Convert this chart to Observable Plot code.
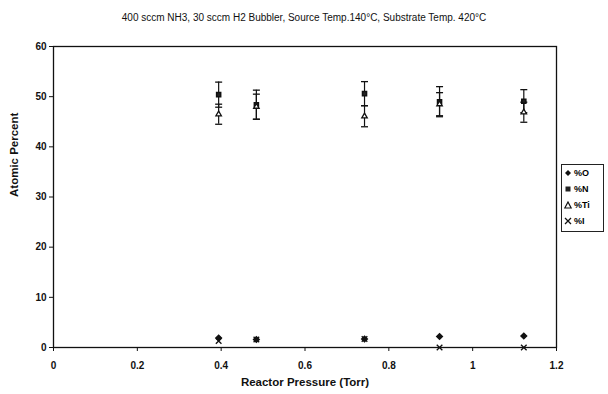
<!DOCTYPE html>
<html>
<head>
<meta charset="utf-8">
<script src="https://cdn.jsdelivr.net/npm/d3@7"></script>
<script src="https://cdn.jsdelivr.net/npm/@observablehq/plot@0.6"></script>
<style>
  body { margin: 0; background: #fff; font-family: "Liberation Sans", Arial, sans-serif; }
  #wrap { position: relative; width: 608px; height: 394px; }
  #title { position: absolute; top: 12px; left: 0; width: 608px; text-align: center; font-size: 10px; color: #111; }
  #legend { position: absolute; left: 561px; top: 164px; width: 43px; height: 68px; border: 1px solid #222; box-sizing: border-box; font-size: 9px; font-weight: bold; }
  #legend div { display: flex; align-items: center; height: 16px; padding-left: 2px; }
  #legend svg { margin-right: 2px; }
</style>
</head>
<body>
<div id="wrap">
  <div id="chart"></div>
  <div id="title">400 sccm NH3, 30 sccm H2 Bubbler, Source Temp.140°C, Substrate Temp. 420°C</div>
  <div id="legend"></div>
</div>
<script>
const pressure = [0.394, 0.484, 0.742, 0.921, 1.122];
const pctO  = [1.9, 1.6, 1.7, 2.2, 2.3];
const pctN  = [50.4, 48.4, 50.6, 49.0, 49.1];
const pctTi = [46.5, 48.0, 46.1, 48.5, 46.9];
const pctI  = [1.3, 1.6, 1.7, 0, 0];
const errN  = [2.5, 2.9, 2.4, 3.0, 2.3];
const errTi = [2.0, 2.5, 2.1, 2.3, 2.0];
const xTicks = [0, 0.2, 0.4, 0.6, 0.8, 1, 1.2];
const yTicks = [0, 10, 20, 30, 40, 50, 60];
const seriesNames = ["%O", "%N", "%Ti", "%I"];

const rows = (vals, name) => pressure.map((p, i) => ({p, v: vals[i], s: name}));
const errRows = (vals, errs) => pressure.map((p, i) => ({p, lo: vals[i] - errs[i], hi: vals[i] + errs[i]}));
const errs = [...errRows(pctN, errN), ...errRows(pctTi, errTi)];

const cap = { draw(ctx, size) { ctx.moveTo(-3.5, 0); ctx.lineTo(3.5, 0); } };
const crossMark = { draw(ctx, size) { ctx.moveTo(-2.8, -2.8); ctx.lineTo(2.8, 2.8); ctx.moveTo(2.8, -2.8); ctx.lineTo(-2.8, 2.8); } };

const chart = Plot.plot({
  width: 608, height: 394,
  marginLeft: 53, marginRight: 52, marginTop: 46, marginBottom: 47,
  style: { fontFamily: "Liberation Sans, Arial, sans-serif", fontSize: "10px", color: "#111", background: "#fff" },
  x: { type: "linear", domain: [0, 1.2], label: null },
  y: { type: "linear", domain: [0, 60], label: null },
  marks: [
    Plot.frame({ stroke: "#111", strokeWidth: 1.3 }),
    Plot.axisX({ ticks: xTicks, tickSize: 4, tickPadding: 10, tickFormat: d => String(d), fontWeight: "bold", fontSize: 10 }),
    Plot.axisY({ ticks: yTicks, tickSize: 4, tickPadding: 3, fontWeight: "bold", fontSize: 10 }),
    Plot.ruleX(errs, { x: "p", y1: "lo", y2: "hi", stroke: "#111", strokeWidth: 1.2 }),
    Plot.dot(errs, { x: "p", y: "lo", symbol: cap, stroke: "#111", strokeWidth: 1.3 }),
    Plot.dot(errs, { x: "p", y: "hi", symbol: cap, stroke: "#111", strokeWidth: 1.3 }),
    Plot.dot(rows(pctO, "%O"), { x: "p", y: "v", symbol: "diamond2", r: 2.5, fill: "#111", stroke: "#111" }),
    Plot.dot(rows(pctN, "%N"), { x: "p", y: "v", symbol: "square2", r: 2.6, fill: "#222", stroke: "#111" }),
    Plot.dot(rows(pctTi, "%Ti"), { x: "p", y: "v", symbol: "triangle2", r: 2.6, fill: "#fff", stroke: "#111", strokeWidth: 1.3 }),
    Plot.dot(rows(pctI, "%I"), { x: "p", y: "v", symbol: crossMark, stroke: "#111", strokeWidth: 1.3 }),
    Plot.text(["Reactor Pressure (Torr)"], { frameAnchor: "bottom", dy: 38, fontWeight: "bold", fontSize: 11.5 }),
    Plot.text(["Atomic Percent"], { frameAnchor: "left", dx: -39, rotate: -90, fontWeight: "bold", fontSize: 11.5 })
  ]
});
document.getElementById("chart").appendChild(chart);

const symbolPaths = {
  "%O": '<path d="M4,1 L7,4 L4,7 L1,4Z" fill="#111"/>',
  "%N": '<rect x="1.5" y="1.5" width="5" height="5" fill="#222"/>',
  "%Ti": '<path d="M4,1 L7.2,7 L0.8,7Z" fill="#fff" stroke="#111" stroke-width="1.2"/>',
  "%I": '<path d="M1,1 L7,7 M7,1 L1,7" stroke="#111" stroke-width="1.3"/>'
};
const legend = document.getElementById("legend");
seriesNames.forEach(n => {
  const row = document.createElement("div");
  row.innerHTML = `<svg width="8" height="8">${symbolPaths[n]}</svg><span>${n}</span>`;
  legend.appendChild(row);
});
</script>
</body>
</html>
